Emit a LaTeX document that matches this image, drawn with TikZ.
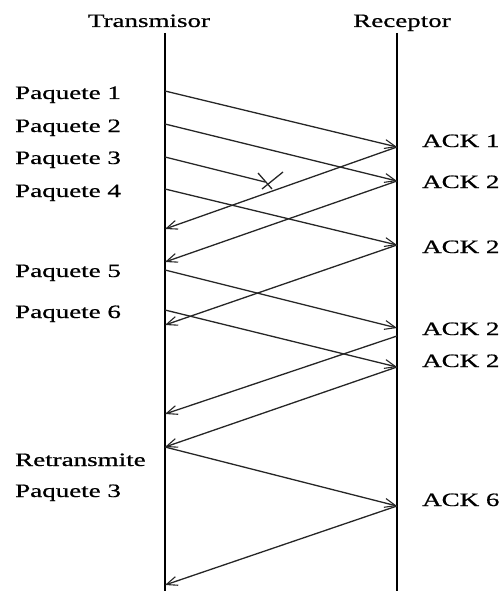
\documentclass[tikz,border=0pt]{standalone}
\usepackage{fontspec}
\setmainfont{Liberation Serif}[FakeBold=0.6]
\usetikzlibrary{arrows.meta}
\newcommand{\wide}[1]{\scalebox{1.5}[1.05]{#1}}
\begin{document}
\begin{tikzpicture}[x=1pt,y=-1pt,
  lbl/.style={font=\fontsize{18}{20}\selectfont, inner sep=0pt, anchor=base west},
  ttl/.style={font=\fontsize{18}{20}\selectfont, inner sep=0pt, anchor=base},
  timeline/.style={line width=1.8pt},
  msg/.style={line width=1.3pt, black!85, -{Straight Barb[length=11pt,width=9pt,line width=1.1pt]}},
  lost/.style={line width=1.3pt, black!85}]
\useasboundingbox (0,0) rectangle (503,591);

% titles
\node[ttl] (tx) at (149,27) {\wide{Transmisor}};
\node[ttl] (rx) at (402,27) {\wide{Receptor}};

% timelines
\coordinate (Ltop) at (165,33);
\coordinate (Lbot) at (165,591);
\coordinate (Rtop) at (397,33);
\coordinate (Rbot) at (397,591);
\draw[timeline] (Ltop) -- (Lbot);
\draw[timeline] (Rtop) -- (Rbot);

% sender events
\coordinate (s1) at (165,91);
\coordinate (s2) at (165,124);
\coordinate (s3) at (165,157);
\coordinate (s4) at (165,189);
\coordinate (a1) at (165,229);
\coordinate (a2) at (165,262);
\coordinate (s5) at (165,270);
\coordinate (s6) at (165,310);
\coordinate (a3) at (165,325);
\coordinate (a4) at (165,414);
\coordinate (a5) at (165,447);
\coordinate (a6) at (165,585);

% receiver events
\coordinate (r1) at (397,147);
\coordinate (r2) at (397,181);
\coordinate (r4) at (397,245);
\coordinate (r5) at (397,328);
\coordinate (r5b) at (397,336);
\coordinate (r6) at (397,367);
\coordinate (r3) at (397,506);

% lost packet
\coordinate (loss) at (265,182);

% packets
\draw[msg] (s1) -- (r1);
\draw[msg] (s2) -- (r2);
\draw[lost] (s3) -- (loss);
\draw[lost] (258,173) -- (272,189);
\draw[lost] (283,172) -- (262,189);
\draw[msg] (s4) -- (r4);
\draw[msg] (s5) -- (r5);
\draw[msg] (s6) -- (r6);
\draw[msg] (a5) -- (r3);

% acknowledgements
\draw[msg] (r1) -- (a1);
\draw[msg] (r2) -- (a2);
\draw[msg] (r4) -- (a3);
\draw[msg] (r5b) -- (a4);
\draw[msg] (r6) -- (a5);
\draw[msg] (r3) -- (a6);

% sender labels
\node[lbl] (p1) at (15,99) {\wide{Paquete 1}};
\node[lbl] (p2) at (15,132) {\wide{Paquete 2}};
\node[lbl] (p3) at (15,164) {\wide{Paquete 3}};
\node[lbl] (p4) at (15,197) {\wide{Paquete 4}};
\node[lbl] (p5) at (15,277) {\wide{Paquete 5}};
\node[lbl] (p6) at (15,318) {\wide{Paquete 6}};
\node[lbl] (re) at (15,466) {\wide{Retransmite}};
\node[lbl] (p3b) at (15,497) {\wide{Paquete 3}};

% receiver labels
\node[lbl] (k1) at (422,147) {\wide{ACK 1}};
\node[lbl] (k2) at (422,188) {\wide{ACK 2}};
\node[lbl] (k3) at (422,253) {\wide{ACK 2}};
\node[lbl] (k4) at (422,335) {\wide{ACK 2}};
\node[lbl] (k5) at (422,367) {\wide{ACK 2}};
\node[lbl] (k6) at (422,506) {\wide{ACK 6}};
\end{tikzpicture}
\end{document}
